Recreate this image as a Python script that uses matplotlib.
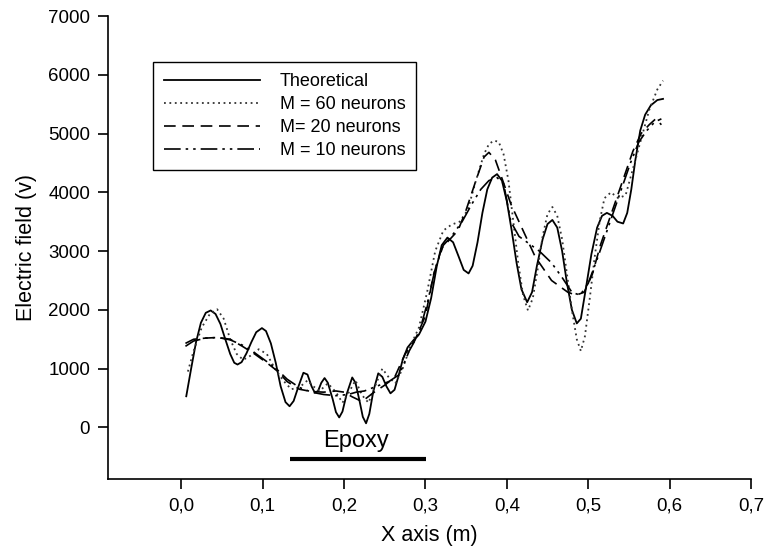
import matplotlib.pyplot as plt

plt.rcParams['font.family'] = ['Liberation Sans', 'DejaVu Sans']

# Theoretical field (solid)
x_theo = [0.006, 0.012, 0.018, 0.024, 0.030, 0.036, 0.042, 0.048, 0.054, 0.060,
          0.065, 0.069, 0.074, 0.080, 0.086, 0.092, 0.099, 0.104, 0.110, 0.116,
          0.122, 0.128, 0.133, 0.138, 0.144, 0.150, 0.155, 0.160, 0.164, 0.168,
          0.172, 0.176, 0.180, 0.186, 0.190, 0.194, 0.198, 0.203, 0.210, 0.214,
          0.219, 0.223, 0.227, 0.231, 0.236, 0.242, 0.247, 0.252, 0.257, 0.262,
          0.267, 0.272, 0.278, 0.285, 0.292, 0.300, 0.307, 0.314, 0.320, 0.327,
          0.334, 0.341, 0.347, 0.353, 0.358, 0.364, 0.370, 0.376, 0.382, 0.388,
          0.394, 0.400, 0.406, 0.412, 0.418, 0.425, 0.431, 0.437, 0.444, 0.450,
          0.456, 0.462, 0.468, 0.474, 0.480, 0.486, 0.491, 0.497, 0.504, 0.511,
          0.517, 0.523, 0.530, 0.536, 0.543, 0.548, 0.553, 0.558, 0.564, 0.570,
          0.577, 0.585, 0.592]
y_theo = [530, 1000, 1450, 1780, 1950, 1990, 1930, 1760, 1500, 1250,
          1100, 1070, 1110, 1260, 1450, 1620, 1690, 1640, 1430, 1100,
          700, 430, 360, 450, 700, 930, 900, 700, 590, 620,
          760, 840, 760, 480, 260, 170, 270, 560, 850, 760,
          450, 180, 70, 230, 620, 920, 860, 700, 580, 640,
          880, 1150, 1360, 1480, 1580, 1800, 2200, 2750, 3100, 3230,
          3150, 2900, 2680, 2620, 2750, 3150, 3650, 4050, 4250, 4310,
          4200, 3850, 3350, 2800, 2350, 2130, 2300, 2750, 3200, 3460,
          3530, 3400, 3000, 2450, 2000, 1770, 1850, 2350, 2950, 3400,
          3600, 3650, 3600, 3500, 3470, 3650, 4050, 4550, 5050, 5320,
          5480, 5570, 5590]

# M = 60 neurons (dotted)
x_m60 = [0.008, 0.015, 0.025, 0.035, 0.044, 0.052, 0.060, 0.068, 0.076, 0.085,
         0.095, 0.105, 0.115, 0.125, 0.135, 0.145, 0.155, 0.162, 0.170, 0.180,
         0.190, 0.198, 0.206, 0.214, 0.222, 0.230, 0.238, 0.247, 0.255, 0.263,
         0.272, 0.282, 0.292, 0.302, 0.312, 0.322, 0.332, 0.342, 0.352, 0.362,
         0.372, 0.378, 0.384, 0.390, 0.396, 0.402, 0.408, 0.414, 0.420, 0.426,
         0.432, 0.438, 0.444, 0.450, 0.456, 0.462, 0.468, 0.474, 0.480, 0.486,
         0.491, 0.496, 0.502, 0.508, 0.514, 0.520, 0.528, 0.537, 0.546, 0.555,
         0.565, 0.575, 0.585, 0.592]
y_m60 = [950, 1300, 1700, 1930, 2010, 1850, 1500, 1250, 1150, 1220,
         1330, 1250, 1000, 800, 650, 680, 800, 700, 620, 750,
         600, 420, 600, 800, 550, 420, 700, 1000, 850, 750,
         1000, 1400, 1700, 2300, 3000, 3350, 3450, 3500, 3700, 4200,
         4650, 4820, 4880, 4860, 4650, 4200, 3500, 2800, 2250, 1990,
         2200, 2700, 3250, 3630, 3750, 3600, 3200, 2600, 2000, 1500,
         1300, 1550, 2200, 2900, 3500, 3900, 4000, 3900, 3950, 4400,
         4900, 5400, 5750, 5900]

# M = 20 neurons (dashed)
x_m20 = [0.005, 0.015, 0.030, 0.045, 0.060, 0.075, 0.090, 0.105, 0.118, 0.130,
         0.145, 0.160, 0.175, 0.190, 0.200, 0.210, 0.222, 0.235, 0.250, 0.262,
         0.275, 0.287, 0.300, 0.310, 0.320, 0.330, 0.340, 0.350, 0.362, 0.372,
         0.378, 0.386, 0.395, 0.405, 0.415, 0.425, 0.435, 0.445, 0.455, 0.465,
         0.475, 0.485, 0.495, 0.505, 0.515, 0.525, 0.535, 0.545, 0.555, 0.565,
         0.575, 0.583, 0.590]
y_m20 = [1430, 1500, 1520, 1530, 1500, 1380, 1250, 1100, 960, 780,
         650, 610, 600, 620, 600, 520, 440, 580, 720, 850,
         1250, 1480, 1900, 2600, 3050, 3200, 3350, 3700, 4200, 4600,
         4680, 4550, 4200, 3800, 3500, 3200, 2900, 2700, 2500, 2400,
         2300, 2250, 2300, 2600, 3100, 3500, 3900, 4300, 4700, 5000,
         5150, 5250, 5150]

# M = 10 neurons (dash-dot-dot)
x_m10 = [0.005, 0.015, 0.030, 0.045, 0.060, 0.075, 0.090, 0.105, 0.118, 0.130,
         0.145, 0.160, 0.175, 0.190, 0.205, 0.215, 0.225, 0.240, 0.255, 0.268,
         0.280, 0.292, 0.302, 0.312, 0.322, 0.332, 0.345, 0.357, 0.368, 0.378,
         0.388, 0.396, 0.405, 0.415, 0.425, 0.440, 0.455, 0.468, 0.480, 0.490,
         0.500, 0.512, 0.522, 0.532, 0.542, 0.552, 0.562, 0.572, 0.582, 0.590]
y_m10 = [1380, 1470, 1520, 1530, 1490, 1400, 1270, 1120, 980, 820,
         680, 600, 560, 540, 560, 600, 620, 700, 780, 900,
         1300, 1600, 2100, 2700, 3100, 3250, 3500, 3800, 4050, 4200,
         4250, 4150, 3500, 3250, 3150, 3000, 2800, 2550, 2300, 2250,
         2450, 2900, 3300, 3700, 4100, 4500, 4850, 5050, 5200, 5250]

epoxy_span = [0.134, 0.301]
xticks = [0.0, 0.1, 0.2, 0.3, 0.4, 0.5, 0.6, 0.7]
yticks = [0, 1000, 2000, 3000, 4000, 5000, 6000, 7000]

fig = plt.figure(figsize=(7.67, 5.52), dpi=100)
ax = fig.add_axes([0.141, 0.132, 0.838, 0.839])

ax.plot(x_theo, y_theo, '-', color='black', linewidth=1.3, label='Theoretical')
ax.plot(x_m60, y_m60, linestyle=(0, (1, 2)), color='#333333', linewidth=1.3,
        label='M = 60 neurons')
ax.plot(x_m20, y_m20, linestyle=(0, (7, 4)), color='black', linewidth=1.2,
        label='M= 20 neurons')
ax.plot(x_m10, y_m10, linestyle=(0, (10, 3, 1.5, 3, 1.5, 3)), color='black',
        linewidth=1.2, label='M = 10 neurons')

ax.plot(epoxy_span, [-530, -530], color='black', linewidth=3, solid_capstyle='butt')
ax.text(0.215, -230, 'Epoxy', ha='center', va='center', fontsize=17)

ax.set_xlim(-0.09, 0.7)
ax.set_ylim(-880, 7000)
ax.set_xticks(xticks)
ax.set_xticklabels([('%.1f' % t).replace('.', ',') for t in xticks])
ax.set_yticks(yticks)
ax.tick_params(direction='out', length=7, width=1.2, labelsize=13.5, pad=6)
for side in ['top', 'right']:
    ax.spines[side].set_visible(False)
for side in ['left', 'bottom']:
    ax.spines[side].set_linewidth(1.2)

ax.set_xlabel('X axis (m)', fontsize=15.5, labelpad=8)
ax.set_ylabel('Electric field (v)', fontsize=15.5, labelpad=8)

leg = ax.legend(loc='upper left', bbox_to_anchor=(0.07, 0.90), borderaxespad=0,
                fontsize=13, handlelength=5.3, handletextpad=1.1,
                labelspacing=0.33, borderpad=0.6, fancybox=False, framealpha=1)
leg.get_frame().set_edgecolor('black')
leg.get_frame().set_linewidth(1.0)

fig.savefig('out.png', dpi=100)
